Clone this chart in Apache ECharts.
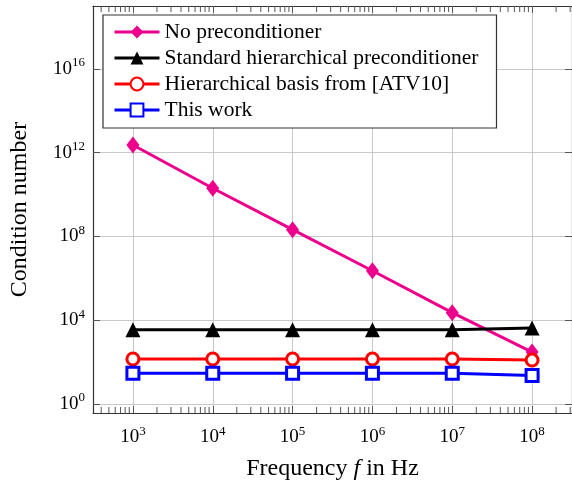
<!DOCTYPE html>
<html>
<head>
<meta charset="utf-8">
<script src="https://cdn.jsdelivr.net/npm/echarts@6/dist/echarts.min.js"></script>
<style>html,body{margin:0;padding:0;background:#fff}#c{width:572px;height:486px}</style>
</head>
<body>
<div id="c"></div>
<script>
const frequencies = [1e3, 1e4, 1e5, 1e6, 1e7, 1e8];
const noPrecond = [2.3e12, 2.0e10, 2.1e8, 2.3e6, 2.3e4, 3.0e2];
const standardHier = [3500, 3500, 3500, 3500, 3500, 4300];
const hierBasis = [140, 140, 140, 140, 140, 125];
const thisWork = [29, 29, 29, 29, 29, 23];
const seriesNames = ['No preconditioner', 'Standard hierarchical preconditioner', 'Hierarchical basis from [ATV10]', 'This work'];
const xTicks = [1e3, 1e4, 1e5, 1e6, 1e7, 1e8];
const yTicks = [1e0, 1e4, 1e8, 1e12, 1e16];
const xMin = Math.pow(10, 2.5), xMax = Math.pow(10, 8.5);
const yMin = Math.pow(10, -0.43), yMax = 1e19;

const minorX = [];
for (let k = 2; k <= 8; k++) for (let m = 2; m <= 9; m++) { const v = m * Math.pow(10, k); if (v > xMin && v < xMax) minorX.push(v); }

const FONT = '"Liberation Serif", "DejaVu Serif", serif';
const pairs = s => frequencies.map((f, i) => [f, s[i]]);
const supFmt = v => '{b|10}{s|' + Math.round(Math.log10(v)) + '}';
const tickRich = { b: { fontSize: 19, fontFamily: FONT, color: '#000' }, s: { fontSize: 13, fontFamily: FONT, color: '#000', padding: [0, 0, 12, 0] } };

const chart = echarts.init(document.getElementById('c'), null, { renderer: 'canvas' });
const lineSeries = (name, data, color, symbol, size, fill) => ({
  name, type: 'line', data: pairs(data), xAxisIndex: 0, yAxisIndex: 0,
  symbol, symbolSize: size, showAllSymbol: true,
  lineStyle: { color, width: 3 },
  itemStyle: { color: fill, borderColor: color, borderWidth: fill === '#fff' ? 3 : 0 },
  emphasis: { disabled: true }, animation: false, z: 5
});
const axisCommon = (ticks) => ({
  axisLine: { show: true, onZero: false, lineStyle: { color: '#333', width: 1.2 } },
  axisTick: { show: true, inside: true, length: 7, customValues: ticks, lineStyle: { color: '#555' } }
});

chart.setOption({
  animation: false,
  grid: { left: 93, top: 6, right: -6, bottom: 71, show: false },
  legend: {
    data: seriesNames, orient: 'vertical', left: 103, top: 15,
    itemWidth: 45, itemHeight: 16, itemGap: 4,
    padding: [6, 18, 7, 10],
    backgroundColor: '#fff', borderColor: '#333', borderWidth: 1.2, borderRadius: 0,
    lineStyle: { width: 3 },
    textStyle: { fontFamily: FONT, fontSize: 21.5, color: '#000', lineHeight: 20 },
    z: 10
  },
  xAxis: [
    Object.assign({ type: 'log', min: xMin, max: xMax, position: 'bottom',
      splitLine: { show: true, lineStyle: { color: '#c8c8c8', width: 1 } },
      axisLabel: { customValues: xTicks, formatter: supFmt, rich: tickRich, margin: 12 },
      name: 'Frequency {i|f} in Hz', nameLocation: 'middle', nameGap: 44,
      nameTextStyle: { fontFamily: FONT, fontSize: 24, color: '#000', rich: { i: { fontFamily: FONT, fontSize: 24, fontStyle: 'italic', color: '#000' } } }
    }, axisCommon(xTicks)),
    Object.assign({ type: 'log', min: xMin, max: xMax, position: 'top',
      splitLine: { show: false }, axisLabel: { show: false }
    }, axisCommon(xTicks))
  ],
  yAxis: [
    Object.assign({ type: 'log', min: yMin, max: yMax, position: 'left',
      splitLine: { show: true, lineStyle: { color: '#c8c8c8', width: 1 } },
      axisLabel: { customValues: yTicks, formatter: supFmt, rich: tickRich, margin: 8 },
      name: 'Condition number', nameLocation: 'middle', nameGap: 61, nameRotate: 90,
      nameTextStyle: { fontFamily: FONT, fontSize: 24, color: '#000' }
    }, axisCommon(yTicks)),
    Object.assign({ type: 'log', min: yMin, max: yMax, position: 'right',
      splitLine: { show: false }, axisLabel: { show: false }
    }, axisCommon(yTicks))
  ],
  series: [
    { type: 'custom', name: 'minorTicks', data: minorX.map(v => [v]), xAxisIndex: 0, yAxisIndex: 0,
      silent: true, clip: false, z: 3,
      renderItem: (params, api) => {
        const b = api.coord([api.value(0), yMin]);
        const t = api.coord([api.value(0), yMax]);
        const st = { stroke: '#555', lineWidth: 1 };
        return { type: 'group', children: [
          { type: 'line', shape: { x1: b[0], y1: b[1], x2: b[0], y2: b[1] - 6 }, style: st },
          { type: 'line', shape: { x1: t[0], y1: t[1], x2: t[0], y2: t[1] + 6 }, style: st }
        ] };
      }
    },
    lineSeries(seriesNames[0], noPrecond, '#ec008c', 'diamond', [13, 17], '#ec008c'),
    lineSeries(seriesNames[1], standardHier, '#000', 'triangle', 15, '#000'),
    lineSeries(seriesNames[2], hierBasis, '#ff0000', 'circle', 12, '#fff'),
    lineSeries(seriesNames[3], thisWork, '#0000ff', 'rect', 12, '#fff')
  ]
});
</script>
</body>
</html>
